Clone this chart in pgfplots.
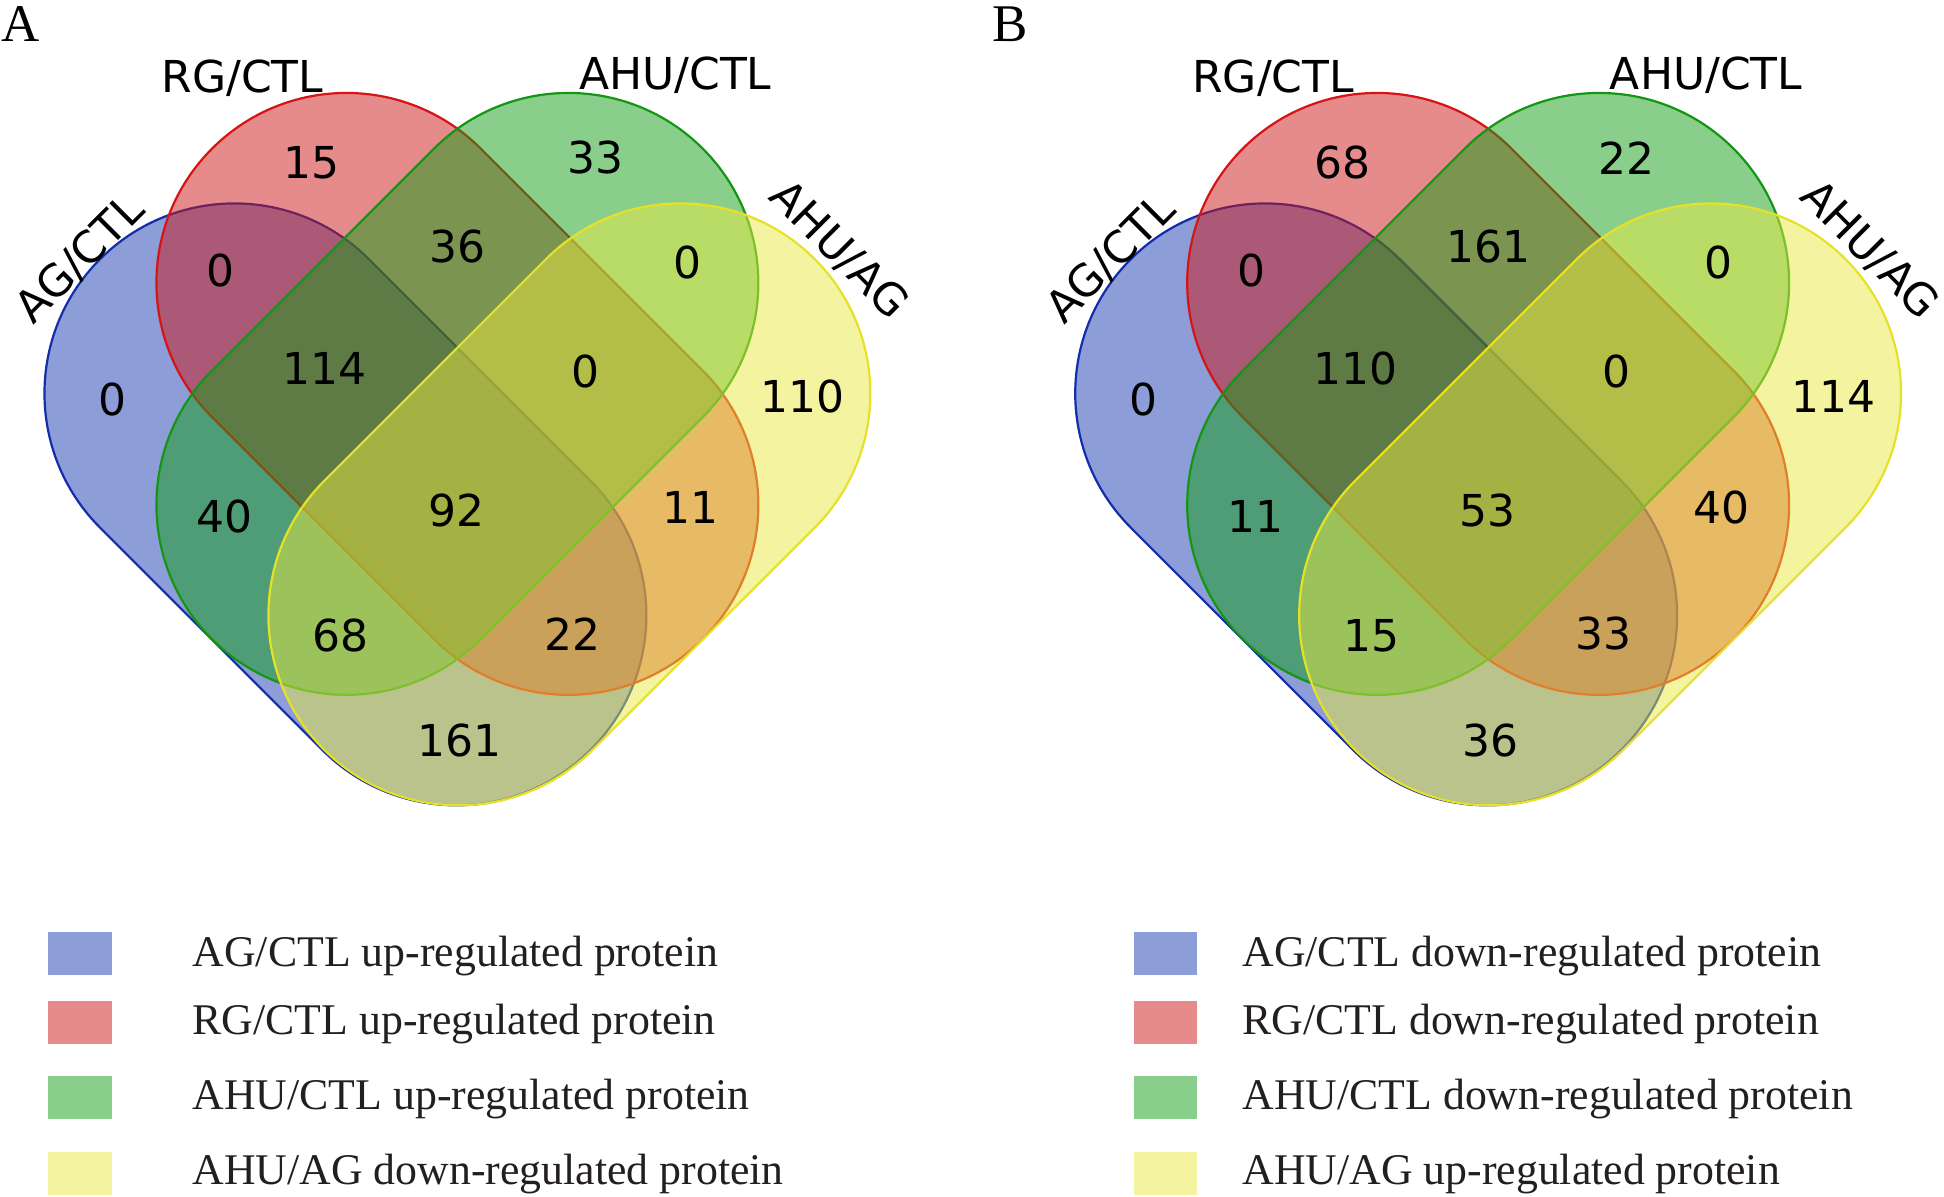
\documentclass[border=0pt]{standalone}
\usepackage{pgfplots}
\pgfplotsset{compat=1.18}
\usepackage{pgfplotstable}
\usepackage{fontspec}
\setmainfont{Liberation Serif}
\newfontfamily\vennfont{DejaVu Sans}

\definecolor{vblue}{RGB}{25,59,177}
\definecolor{vred}{RGB}{203,23,23}
\definecolor{vgreen}{RGB}{19,159,23}
\definecolor{vyellow}{RGB}{233,233,65}
\definecolor{eblue}{RGB}{20,45,170}
\definecolor{ered}{RGB}{215,20,20}
\definecolor{egreen}{RGB}{20,150,20}
\definecolor{eyellow}{RGB}{230,225,40}
\definecolor{legtext}{RGB}{35,31,32}

% region counts, positions in pixel units of the figure
\pgfplotstableread{
x y n
312 163 15
221 271 0
325 369 114
458 247 36
113 400 0
596 158 33
688 263 0
586 372 0
803 397 110
225 517 40
457 511 92
341 636 68
460 741 161
691 508 11
573 634 22
}\countsA
\pgfplotstableread{
x y n
1343 163 68
1252 271 0
1356 369 110
1489 247 161
1144 400 0
1627 158 22
1719 263 0
1617 372 0
1834 397 114
1256 517 11
1488 511 53
1372 636 15
1491 741 36
1722 508 40
1604 634 33
}\countsB

\tikzset{
  caps/.style 2 args={shape=rectangle, rounded corners=47.5pt,
    minimum width=173.5pt, minimum height=95pt, inner sep=0pt, outer sep=0pt,
    fill=#1, fill opacity=0.5, draw=#2, draw opacity=1, line width=0.55pt, overlay},
  setlab/.style={font=\vennfont\fontsize{11}{13}\selectfont, inner sep=0pt, text=black},
  legtxt/.style={anchor=base west, inner sep=0pt, text=legtext, font=\fontsize{10.95}{12}\selectfont},
}

\begin{document}
\begin{tikzpicture}
\begin{axis}[x=0.25pt, y=0.25pt, xmin=0, xmax=1944, ymin=0, ymax=1197,
  y dir=reverse, hide axis, clip=false]
\path (axis cs:0,0) rectangle (axis cs:1944,1197);

% ---------- Panel A ----------
\node[caps={vblue}{eblue}, rotate=-45] at (axis cs:345.5,504.5) {};
\node[caps={vred}{ered}, rotate=-45] at (axis cs:457.5,394) {};
\node[caps={vgreen}{egreen}, rotate=45] at (axis cs:457.5,394) {};
\node[caps={vyellow}{eyellow}, rotate=45] at (axis cs:569.5,504.5) {};

% ---------- Panel B ----------
\node[caps={vblue}{eblue}, rotate=-45] at (axis cs:1376.5,504.5) {};
\node[caps={vred}{ered}, rotate=-45] at (axis cs:1488.5,394) {};
\node[caps={vgreen}{egreen}, rotate=45] at (axis cs:1488.5,394) {};
\node[caps={vyellow}{eyellow}, rotate=45] at (axis cs:1600.5,504.5) {};

\addplot[draw=none, nodes near coords, point meta=explicit symbolic,
  nodes near coords style={anchor=center, inner sep=0pt, text=black,
    font=\vennfont\fontsize{11}{13}\selectfont}]
  table[x=x, y=y, meta=n] {\countsA};
\addplot[draw=none, nodes near coords, point meta=explicit symbolic,
  nodes near coords style={anchor=center, inner sep=0pt, text=black,
    font=\vennfont\fontsize{11}{13}\selectfont}]
  table[x=x, y=y, meta=n] {\countsB};

% set labels A
\node[setlab, anchor=base] at (axis cs:242.5,93) {RG/CTL};
\node[setlab, anchor=base] at (axis cs:675.5,90) {AHU/CTL};
\node[setlab, anchor=base, rotate=45] at (axis cs:90,269) {AG/CTL};
\node[setlab, anchor=base, rotate=-45] at (axis cs:829,260) {AHU/AG};
% set labels B
\node[setlab, anchor=base] at (axis cs:1273.5,93) {RG/CTL};
\node[setlab, anchor=base] at (axis cs:1706.5,90) {AHU/CTL};
\node[setlab, anchor=base, rotate=45] at (axis cs:1121,269) {AG/CTL};
\node[setlab, anchor=base, rotate=-45] at (axis cs:1860,260) {AHU/AG};

% panel letters
\node[anchor=base west, inner sep=0pt, font=\fontsize{13.25}{15}\selectfont] at (axis cs:1,42) {A};
\node[anchor=base west, inner sep=0pt, font=\fontsize{13.25}{15}\selectfont] at (axis cs:992,42) {B};

% legend A
\fill[vblue!50!white] (axis cs:48,932) rectangle (axis cs:112,975);
\fill[vred!50!white] (axis cs:48,1001) rectangle (axis cs:112,1044);
\fill[vgreen!50!white] (axis cs:48,1076) rectangle (axis cs:112,1119);
\fill[vyellow!50!white] (axis cs:48,1152) rectangle (axis cs:112,1195);
\node[legtxt] at (axis cs:192,967) {AG/CTL up-regulated protein};
\node[legtxt] at (axis cs:192,1035) {RG/CTL up-regulated protein};
\node[legtxt] at (axis cs:192,1110) {AHU/CTL up-regulated protein};
\node[legtxt] at (axis cs:192,1185) {AHU/AG down-regulated protein};
% legend B
\fill[vblue!50!white] (axis cs:1134,932) rectangle (axis cs:1197,975);
\fill[vred!50!white] (axis cs:1134,1001) rectangle (axis cs:1197,1044);
\fill[vgreen!50!white] (axis cs:1134,1076) rectangle (axis cs:1197,1119);
\fill[vyellow!50!white] (axis cs:1134,1152) rectangle (axis cs:1197,1195);
\node[legtxt] at (axis cs:1242,967) {AG/CTL down-regulated protein};
\node[legtxt] at (axis cs:1242,1035) {RG/CTL down-regulated protein};
\node[legtxt] at (axis cs:1242,1110) {AHU/CTL down-regulated protein};
\node[legtxt] at (axis cs:1242,1185) {AHU/AG up-regulated protein};
\end{axis}
\end{tikzpicture}
\end{document}
